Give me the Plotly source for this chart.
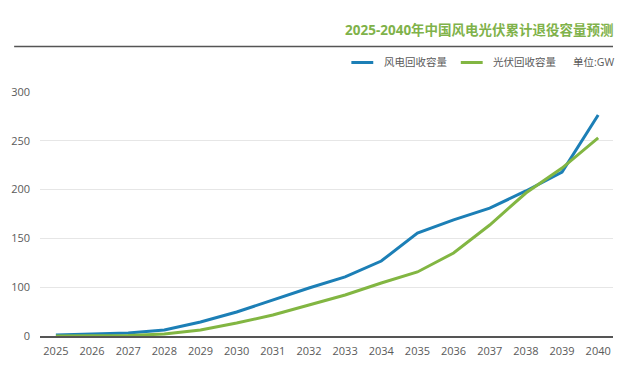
import plotly.graph_objects as go

years = [str(y) for y in range(2025, 2041)]
wind = [51.0, 52.0, 53.1, 56.1, 64.3, 74.6, 86.9, 99.2, 110.5, 126.8, 155.5, 168.9, 181.1, 198.6, 218.0, 276.4]
solar = [50.0, 50.0, 50.5, 52.0, 56.1, 63.3, 71.5, 81.8, 92.0, 104.3, 115.6, 135.0, 163.7, 196.5, 222.1, 252.9]
y_tickvals = [50, 100, 150, 200, 250, 300]
y_ticktext = ["0", "100", "150", "200", "250", "300"]
title_text = "2025-2040年中国风电光伏累计退役容量预测"
series_names = ["风电回收容量", "光伏回收容量"]
unit_text = "单位:GW"

BLUE = "#1c7fb6"
GREEN = "#82b642"
TXT = "#5a5a5a"
FONT = "Open Sans, Noto Sans CJK SC, sans-serif"

W, H = 624, 383
L, R, T, B = 37, 613, 92, 336


def px(x):
    return (x - L) / (R - L)


def py(y):
    return (B - y) / (B - T)


fig = go.Figure()
fig.add_trace(go.Scatter(x=years, y=wind, mode="lines", name=series_names[0],
                         line=dict(color=BLUE, width=3)))
fig.add_trace(go.Scatter(x=years, y=solar, mode="lines", name=series_names[1],
                         line=dict(color=GREEN, width=3)))

shapes = [
    dict(type="line", xref="paper", yref="paper", x0=px(11), x1=px(613), y0=py(46.5), y1=py(46.5),
         line=dict(color="#555555", width=1.6)),
    dict(type="line", xref="paper", yref="paper", x0=px(350), x1=px(372), y0=py(62.5), y1=py(62.5),
         line=dict(color=BLUE, width=3)),
    dict(type="line", xref="paper", yref="paper", x0=px(460), x1=px(482), y0=py(62.5), y1=py(62.5),
         line=dict(color=GREEN, width=3)),
]

annotations = [
    dict(text="<b>" + title_text + "</b>", xref="paper", yref="paper", x=px(616), y=py(30),
         xanchor="right", yanchor="middle", showarrow=False,
         font=dict(family=FONT, size=13.5, color="#7fb24a")),
    dict(text=series_names[0], xref="paper", yref="paper", x=px(381), y=py(62.5),
         xanchor="left", yanchor="middle", showarrow=False,
         font=dict(family=FONT, size=10.5, color=TXT)),
    dict(text=series_names[1], xref="paper", yref="paper", x=px(490), y=py(62.5),
         xanchor="left", yanchor="middle", showarrow=False,
         font=dict(family=FONT, size=10.5, color=TXT)),
    dict(text=unit_text, xref="paper", yref="paper", x=px(616), y=py(62.5),
         xanchor="right", yanchor="middle", showarrow=False,
         font=dict(family=FONT, size=10.5, color=TXT)),
]

fig.update_layout(
    width=W, height=H,
    margin=dict(l=L, r=W - R, t=T, b=H - B, pad=0),
    paper_bgcolor="white", plot_bgcolor="white",
    showlegend=False,
    font=dict(family=FONT, color=TXT, size=11),
    shapes=shapes,
    annotations=annotations,
    xaxis=dict(type="category", range=[-0.44, 15.41], showgrid=False, zeroline=False,
               showline=True, linecolor="#555555", linewidth=1.6,
               ticks="", ticklabelstandoff=4,
               tickfont=dict(family=FONT, size=11, color=TXT)),
    yaxis=dict(range=[50, 300], tickvals=y_tickvals, ticktext=y_ticktext,
               showgrid=True, gridcolor="#e6e6e6", gridwidth=1, zeroline=False,
               showline=False, ticks="", ticklabelstandoff=9,
               tickfont=dict(family=FONT, size=11, color=TXT)),
)

fig.write_html(
    "out.html",
    config={"displayModeBar": False},
    post_script="document.body.style.margin='0';document.body.style.padding='0';"
                "document.body.style.overflow='hidden';",
)
